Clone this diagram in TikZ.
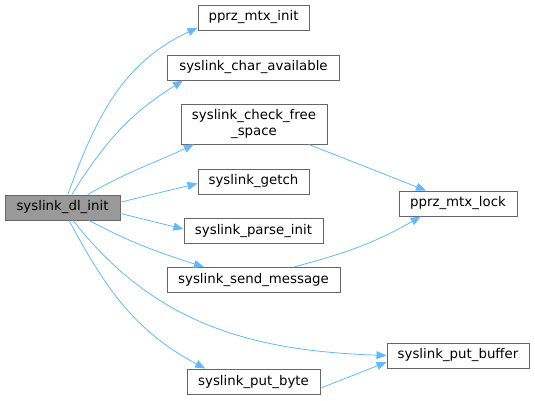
\documentclass[tikz,border=0pt]{standalone}
\usepackage{fontspec}
\setmainfont{DejaVu Sans}
\usetikzlibrary{arrows.meta}
\definecolor{edgeblue}{HTML}{63B8FF}
\definecolor{boxgray}{HTML}{666666}
\definecolor{rootfill}{HTML}{999999}
\tikzset{
  fnbox/.style={draw=boxgray, fill=white, line width=0.75pt, inner sep=0pt,
    minimum height=18.75pt, align=center, font=\fontsize{10}{11.5}\selectfont},
  rootbox/.style={fnbox, fill=rootfill},
  call/.style={draw=edgeblue, line width=0.6pt, -{Triangle[length=7.5pt,width=6pt]}},
}

\begin{document}
\begin{tikzpicture}[x=0.75pt,y=-0.75pt]
    \useasboundingbox (0,0) rectangle (535,400);

    %%% caller %%%
    \node[rootbox, minimum width=86.25pt] (dlinit) at (62.5,207.5) {syslink\_dl\_init};

    %%% callees %%%
    \node[fnbox, minimum width=83.25pt]  (mtxinit)  at (253.5,17.5)  {pprz\_mtx\_init};
    \node[fnbox, minimum width=129pt]    (charav)   at (253.5,67.5)  {syslink\_char\_available};
    \node[fnbox, minimum width=109.5pt, minimum height=30pt] (checkfree) at (254,124) {syslink\_check\_free\\\_space};
    \node[fnbox, minimum width=83.25pt]  (getch)    at (253.5,181.5) {syslink\_getch};
    \node[fnbox, minimum width=104.25pt] (parseinit) at (253.5,231)  {syslink\_parse\_init};
    \node[fnbox, minimum width=129.75pt] (sendmsg)  at (253.5,280)   {syslink\_send\_message};
    \node[fnbox, minimum width=99.75pt]  (putbyte)  at (253.5,381.5) {syslink\_put\_byte};
    \node[fnbox, minimum width=88.5pt]   (mtxlock)  at (458,203.5)   {pprz\_mtx\_lock};
    \node[fnbox, minimum width=106.5pt]  (putbuf)   at (458,355.5)   {syslink\_put\_buffer};

    %%% calls %%%
    \draw[call] ([xshift=4pt]dlinit.north) to[out=70,in=205] ([yshift=2pt]mtxinit.south west);
    \draw[call] ([xshift=7pt]dlinit.north) to[out=58,in=212] ([xshift=12pt]charav.south west);
    \draw[call] ([xshift=19pt]dlinit.north) to[out=30,in=205] ([xshift=10pt]checkfree.south west);
    \draw[call] ([yshift=4pt]dlinit.east) -- ([yshift=-1.5pt]getch.west);
    \draw[call] ([yshift=-4.5pt]dlinit.east) -- ([yshift=1.5pt]parseinit.west);
    \draw[call] ([xshift=20pt]dlinit.south) to[out=-28,in=162] ([xshift=28pt]sendmsg.north west);
    \draw[call] ([xshift=8pt]dlinit.south) to[out=-52,in=178] (putbuf.west);
    \draw[call] ([xshift=5pt]dlinit.south) to[out=-62,in=152] ([xshift=14pt]putbyte.north west);
    \draw[call] ([xshift=-14pt]checkfree.south east) -- ([xshift=-24pt]mtxlock.north);
    \draw[call] ([xshift=-35pt]sendmsg.north east) to[out=15,in=210] ([xshift=-28pt]mtxlock.south);
    \draw[call] ([yshift=-5pt]putbyte.east) -- ([yshift=-5pt]putbuf.west);

\end{tikzpicture}
\end{document}
